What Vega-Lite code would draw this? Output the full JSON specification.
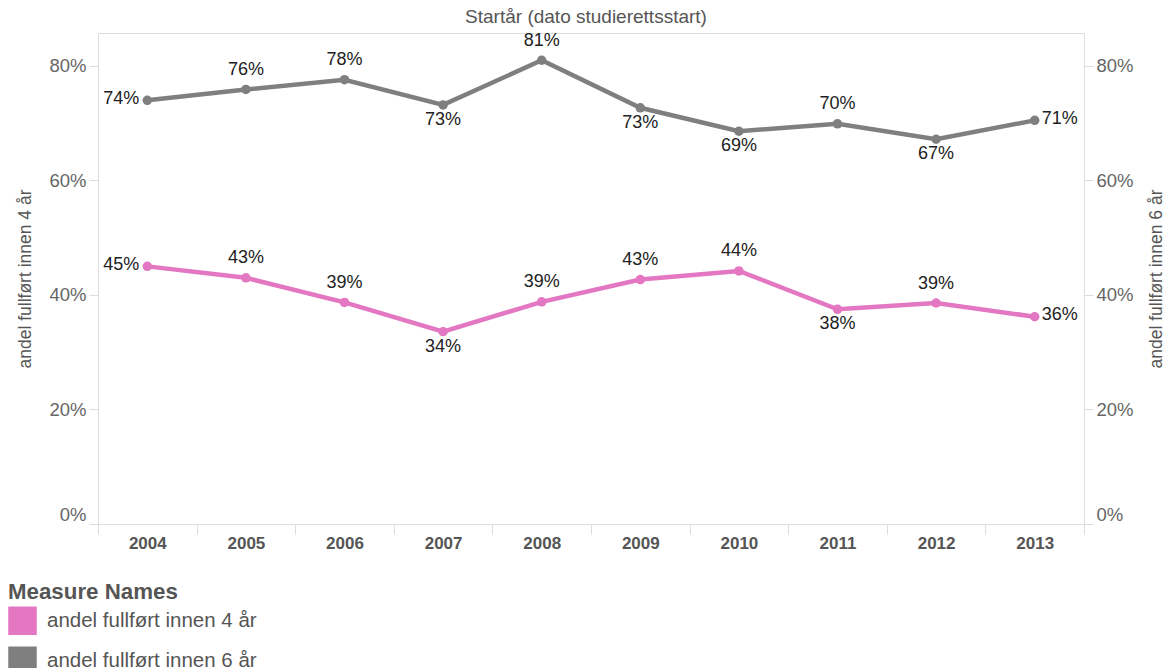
{
  "$schema": "https://vega.github.io/schema/vega-lite/v6.json",
  "width": 986,
  "height": 491,
  "autosize": "none",
  "padding": {"left": 98, "top": 33, "right": 84, "bottom": 144},
  "background": "white",
  "title": {"text": "Startår (dato studierettsstart)", "fontSize": 19, "fontWeight": "normal", "color": "#555555", "offset": -14, "dx": -5, "baseline": "bottom", "anchor": "middle", "frame": "group", "font": "Liberation Sans"},
  "config": {
    "view": {"stroke": "#dddddd", "strokeWidth": 1},
    "font": "Liberation Sans",
    "axis": {"grid": false}
  },
  "data": {"values": [
    {"year": "2004", "measure": "andel fullført innen 4 år", "value": 0.450},
    {"year": "2005", "measure": "andel fullført innen 4 år", "value": 0.430},
    {"year": "2006", "measure": "andel fullført innen 4 år", "value": 0.387},
    {"year": "2007", "measure": "andel fullført innen 4 år", "value": 0.336},
    {"year": "2008", "measure": "andel fullført innen 4 år", "value": 0.388},
    {"year": "2009", "measure": "andel fullført innen 4 år", "value": 0.427},
    {"year": "2010", "measure": "andel fullført innen 4 år", "value": 0.442},
    {"year": "2011", "measure": "andel fullført innen 4 år", "value": 0.375},
    {"year": "2012", "measure": "andel fullført innen 4 år", "value": 0.386},
    {"year": "2013", "measure": "andel fullført innen 4 år", "value": 0.362},
    {"year": "2004", "measure": "andel fullført innen 6 år", "value": 0.740},
    {"year": "2005", "measure": "andel fullført innen 6 år", "value": 0.759},
    {"year": "2006", "measure": "andel fullført innen 6 år", "value": 0.776},
    {"year": "2007", "measure": "andel fullført innen 6 år", "value": 0.732},
    {"year": "2008", "measure": "andel fullført innen 6 år", "value": 0.810},
    {"year": "2009", "measure": "andel fullført innen 6 år", "value": 0.727},
    {"year": "2010", "measure": "andel fullført innen 6 år", "value": 0.686},
    {"year": "2011", "measure": "andel fullført innen 6 år", "value": 0.699},
    {"year": "2012", "measure": "andel fullført innen 6 år", "value": 0.672},
    {"year": "2013", "measure": "andel fullført innen 6 år", "value": 0.705}
  ]},
  "encoding": {
    "x": {
      "field": "year", "type": "ordinal",
      "scale": {"type": "band", "paddingInner": 0, "paddingOuter": 0},
      "axis": {"title": null, "labelAngle": 0, "labelFontWeight": "bold", "labelFontSize": 17, "labelColor": "#555555", "tickBand": "extent", "tickSize": 10, "tickColor": "#dddddd", "domainColor": "#dddddd", "labelPadding": 1}
    }
  },
  "layer": [
    {
      "transform": [{"filter": "datum.measure === 'andel fullført innen 4 år'"}],
      "encoding": {
        "y": {
          "field": "value", "type": "quantitative",
          "scale": {"domain": [0, 0.8576], "nice": false, "zero": true},
          "axis": {"orient": "left", "format": ".0%", "values": [0, 0.2, 0.4, 0.6, 0.8], "tickSize": 9, "tickColor": "#dddddd", "domainColor": "#dddddd", "labelFontSize": 18.5, "labelColor": "#666666", "labelPadding": 3, "labelFlush": true, "title": "andel fullført innen 4 år", "titleFontSize": 17.5, "titleFontWeight": "normal", "titleColor": "#555555", "titlePadding": 14}
        }
      },
      "layer": [
        {"mark": {"type": "line", "strokeWidth": 4.5},
         "encoding": {"color": {"field": "measure", "type": "nominal",
           "scale": {"domain": ["andel fullført innen 4 år", "andel fullført innen 6 år"], "range": ["#e377c2", "#7f7f7f"]},
           "legend": {"orient": "none", "legendX": -90, "legendY": 548, "title": "Measure Names", "titleFontSize": 22.3, "titleFontWeight": "bold", "titleColor": "#555555", "labelFontSize": 20.5, "labelColor": "#555555", "labelLimit": 500, "symbolType": "square", "symbolSize": 729, "rowPadding": 7, "labelOffset": 10, "titlePadding": 3,
             "encode": {"symbols": {"update": {"fill": {"scale": "color", "field": "value"}, "stroke": {"value": "transparent"}, "opacity": {"value": 1}}}}}}}},
        {"mark": {"type": "point", "filled": true, "size": 90, "opacity": 1},
         "encoding": {"color": {"field": "measure", "type": "nominal"}}},
        {"transform": [{"filter": {"field": "year", "oneOf": ["2005", "2006", "2008", "2009", "2010", "2012"]}}],
         "mark": {"type": "text", "dy": -19.5, "fontSize": 18, "color": "#222222", "baseline": "middle"},
         "encoding": {"text": {"field": "value", "type": "quantitative", "format": ".0%"}}},
        {"transform": [{"filter": {"field": "year", "oneOf": ["2007", "2011"]}}],
         "mark": {"type": "text", "dy": 15, "fontSize": 18, "color": "#222222", "baseline": "middle"},
         "encoding": {"text": {"field": "value", "type": "quantitative", "format": ".0%"}}},
        {"transform": [{"filter": {"field": "year", "oneOf": ["2004"]}}],
         "mark": {"type": "text", "dx": -8, "dy": -1.5, "align": "right", "fontSize": 18, "color": "#222222", "baseline": "middle"},
         "encoding": {"text": {"field": "value", "type": "quantitative", "format": ".0%"}}},
        {"transform": [{"filter": {"field": "year", "oneOf": ["2013"]}}],
         "mark": {"type": "text", "dx": 7, "dy": -1.5, "align": "left", "fontSize": 18, "color": "#222222", "baseline": "middle"},
         "encoding": {"text": {"field": "value", "type": "quantitative", "format": ".0%"}}}
      ]
    },
    {
      "transform": [{"filter": "datum.measure === 'andel fullført innen 6 år'"}],
      "encoding": {
        "y": {
          "field": "value", "type": "quantitative",
          "scale": {"domain": [0, 0.8576], "nice": false, "zero": true},
          "axis": {"orient": "right", "format": ".0%", "values": [0, 0.2, 0.4, 0.6, 0.8], "tickSize": 9, "tickColor": "#dddddd", "domainColor": "#dddddd", "labelFontSize": 18.5, "labelColor": "#666666", "labelPadding": 3, "labelFlush": true, "title": "andel fullført innen 6 år", "titleAngle": 270, "titleFontSize": 17.5, "titleFontWeight": "normal", "titleColor": "#555555", "titlePadding": 32}
        }
      },
      "layer": [
        {"mark": {"type": "line", "strokeWidth": 4.5},
         "encoding": {"color": {"field": "measure", "type": "nominal"}}},
        {"mark": {"type": "point", "filled": true, "size": 90, "opacity": 1},
         "encoding": {"color": {"field": "measure", "type": "nominal"}}},
        {"transform": [{"filter": {"field": "year", "oneOf": ["2005", "2006", "2008", "2011"]}}],
         "mark": {"type": "text", "dy": -19.5, "fontSize": 18, "color": "#222222", "baseline": "middle"},
         "encoding": {"text": {"field": "value", "type": "quantitative", "format": ".0%"}}},
        {"transform": [{"filter": {"field": "year", "oneOf": ["2007", "2009", "2010", "2012"]}}],
         "mark": {"type": "text", "dy": 15, "fontSize": 18, "color": "#222222", "baseline": "middle"},
         "encoding": {"text": {"field": "value", "type": "quantitative", "format": ".0%"}}},
        {"transform": [{"filter": {"field": "year", "oneOf": ["2004"]}}],
         "mark": {"type": "text", "dx": -8, "dy": -1.5, "align": "right", "fontSize": 18, "color": "#222222", "baseline": "middle"},
         "encoding": {"text": {"field": "value", "type": "quantitative", "format": ".0%"}}},
        {"transform": [{"filter": {"field": "year", "oneOf": ["2013"]}}],
         "mark": {"type": "text", "dx": 7, "dy": -1.5, "align": "left", "fontSize": 18, "color": "#222222", "baseline": "middle"},
         "encoding": {"text": {"field": "value", "type": "quantitative", "format": ".0%"}}}
      ]
    }
  ],
  "resolve": {"scale": {"y": "independent"}, "axis": {"y": "independent"}}
}
